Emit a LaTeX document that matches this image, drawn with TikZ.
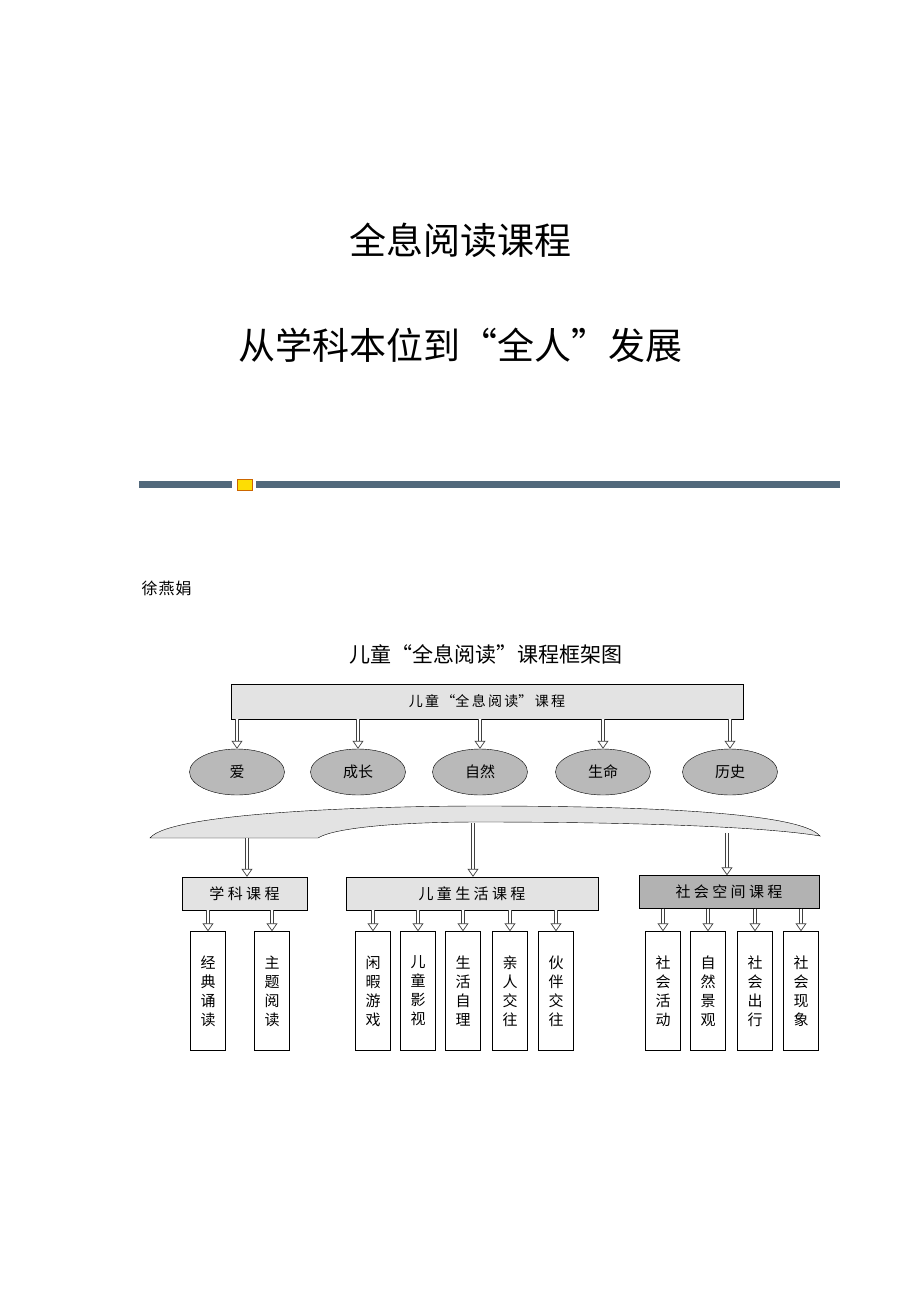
\documentclass[tikz,border=0pt]{standalone}
\usepackage{fontspec}
\setmainfont{Noto Sans CJK SC}
\usetikzlibrary{arrows.meta,positioning,shapes.geometric}
\definecolor{barblue}{HTML}{52697C}
\tikzset{
  topbox/.style={draw,fill=gray!22,minimum height=35pt,inner sep=0pt,font=\fontsize{14}{14}\selectfont},
  theme/.style={draw,ellipse,fill=gray!55,minimum width=95pt,minimum height=46pt,inner sep=0pt,font=\fontsize{15}{15}\selectfont},
  midbox/.style={draw,fill=gray!22,minimum height=33pt,inner sep=0pt,font=\fontsize{15}{15}\selectfont},
  leaf/.style={draw,fill=white,minimum width=35pt,minimum height=119pt,inner sep=0pt,font=\fontsize{15}{19}\selectfont,align=center},
  hollow/.style={draw=white,line width=2.6pt,shorten >=6pt,
    preaction={draw=black!75,line width=4.2pt,shorten >=6pt},
    postaction={draw=white,line width=0.6pt,shorten >=0pt,
      -{Triangle[open,length=8pt,width=11pt,color=black!75,fill=white,line width=0.7pt]}}}
}
\begin{document}
\begin{tikzpicture}[x=1pt,y=-1pt]
    \useasboundingbox (0,0) rectangle (920,1302);
    % titles
    \node[font=\fontsize{37}{37}\selectfont] (T1) at (460,240) {全息阅读课程};
    \node[font=\fontsize{37}{37}\selectfont] (T2) at (460,345) {从学科本位到“全人”发展};
    \fill[barblue] (139,481) rectangle (232,488);
    \fill[barblue] (256,481) rectangle (840,488);
    \fill[yellow!80!orange,draw=orange!80!black,line width=0.3pt] (237,479) rectangle (252,490);
    \node[anchor=west,font=\fontsize{16}{16}\selectfont] (Au) at (138,588) {徐\kern1pt 燕\kern1pt 娟};

    % diagram
    \node[font=\fontsize{21}{21}\selectfont] (Dt) at (486,654) {儿童“全息阅读”课程框架图};
    \node[topbox,minimum width=512pt] (Top) at (487,701.5) {儿\,童\,“全\,息\,阅\,读”\,课\,程};
    \foreach \x/\t/\n in {237/爱/E1,358/成长/E2,480/自然/E3,603/生命/E4,730/历史/E5}{
        \node[theme] (\n) at (\x,772) {\t};
        \draw[hollow] (Top.south -| \n) -- (\n.north);
    }
    % band
    \draw[fill=gray!22] (150,838) .. controls (170,812) and (380,806) .. (480,806)
        .. controls (640,806) and (800,812) .. (820,836)
        .. controls (760,826) and (620,822) .. (480,822)
        .. controls (380,822) and (330,830) .. (318,838) -- cycle;
    \coordinate (B1) at (247,838);
    \coordinate (B2) at (473,823);
    \coordinate (B3) at (727,833);
    \node[midbox,minimum width=125pt] (M1) at (244.5,893.5) {学\ 科\ 课\ 程};
    \node[midbox,minimum width=252pt] (M2) at (472,893.5) {儿\ 童\ 生\ 活\ 课\ 程};
    \node[midbox,minimum width=180pt,fill=gray!60] (M3) at (729,892) {社\ 会\ 空\ 间\ 课\ 程};
    \draw[hollow] (B1) -- (M1.north -| B1);
    \draw[hollow] (B2) -- (M2.north -| B2);
    \draw[hollow] (B3) -- (M3.north -| B3);
    \foreach \x/\t/\m/\n in {208/经\\典\\诵\\读/M1/L1,272/主\\题\\阅\\读/M1/L2,
        373/闲\\暇\\游\\戏/M2/L3,418/儿\\童\\影\\视/M2/L4,463/生\\活\\自\\理/M2/L5,
        510/亲\\人\\交\\往/M2/L6,556/伙\\伴\\交\\往/M2/L7,
        663/社\\会\\活\\动/M3/L8,708/自\\然\\景\\观/M3/L9,755/社\\会\\出\\行/M3/L10,801/社\\会\\现\\象/M3/L11}{
        \node[leaf] (\n) at (\x,991) {\t};
        \draw[hollow] (\m.south -| \n) -- (\n.north);
    }
\end{tikzpicture}
\end{document}
